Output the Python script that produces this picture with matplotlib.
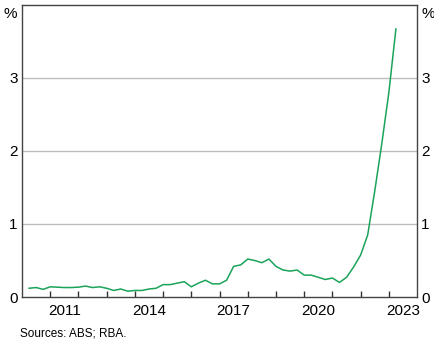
import numpy as np
import matplotlib
matplotlib.use('Agg')
import matplotlib.pyplot as plt

plt.rcParams['font.family'] = ['Liberation Sans', 'DejaVu Sans']

# Quarterly series, 2010 Q2 to 2023 Q2
start_year = 2010.25
values = [0.12, 0.13, 0.105, 0.14, 0.135, 0.13, 0.13, 0.135, 0.15, 0.13,
          0.14, 0.12, 0.09, 0.11, 0.08, 0.09, 0.09, 0.11, 0.12, 0.17,
          0.17, 0.19, 0.21, 0.14, 0.19, 0.23, 0.18, 0.18, 0.23, 0.42,
          0.44, 0.52, 0.50, 0.47, 0.52, 0.42, 0.37, 0.355, 0.37, 0.30,
          0.30, 0.27, 0.24, 0.26, 0.20, 0.27, 0.41, 0.575, 0.85, 1.45,
          2.10, 2.80, 3.67]
dates = start_year + 0.25 * np.arange(len(values))

year_labels = [2011, 2014, 2017, 2020, 2023]
y_labels = ['0', '1', '2', '3']

fig = plt.figure(figsize=(4.34, 3.47), dpi=100)
ax = fig.add_axes([0.0507, 0.144, 0.9103, 0.842])

# Line
ax.plot(dates, values, color='#1aa35a', lw=1.1)

# Axes limits and grid
ax.set_xlim(2010, 2024)
ax.set_ylim(0, 4)
for v in [1, 2, 3]:
    ax.axhline(v, color='#bdbdbd', lw=1, zorder=0)

# Y ticks both sides, no marks
ax.set_yticks(range(4))
ax.set_yticklabels(y_labels)
ax.tick_params(axis='y', length=0, labelsize=11, pad=3,
               left=True, right=True, labelleft=True, labelright=True)

# X: year tick marks, labels mid-year
ax.set_xticks(np.arange(2011, 2024))
ax.set_xticklabels([])
ax.tick_params(axis='x', which='major', direction='in', length=4,
               width=1, color='#333333')
ax.set_xticks([y + 0.5 for y in year_labels], minor=True)
ax.set_xticklabels([str(y) for y in year_labels], minor=True)
ax.tick_params(axis='x', which='minor', length=0, labelsize=11, pad=5)

for s in ax.spines.values():
    s.set_color('#444444')
    s.set_linewidth(1)

# % unit labels
ax.text(-0.012, 0.968, '%', transform=ax.transAxes, ha='right', va='center',
        fontsize=11)
ax.text(1.012, 0.968, '%', transform=ax.transAxes, ha='left', va='center',
        fontsize=11)

fig.text(20 / 434, 1 - 334 / 347, 'Sources: ABS; RBA.', ha='left',
         va='center', fontsize=8.5)

fig.savefig('out.png', dpi=100)
